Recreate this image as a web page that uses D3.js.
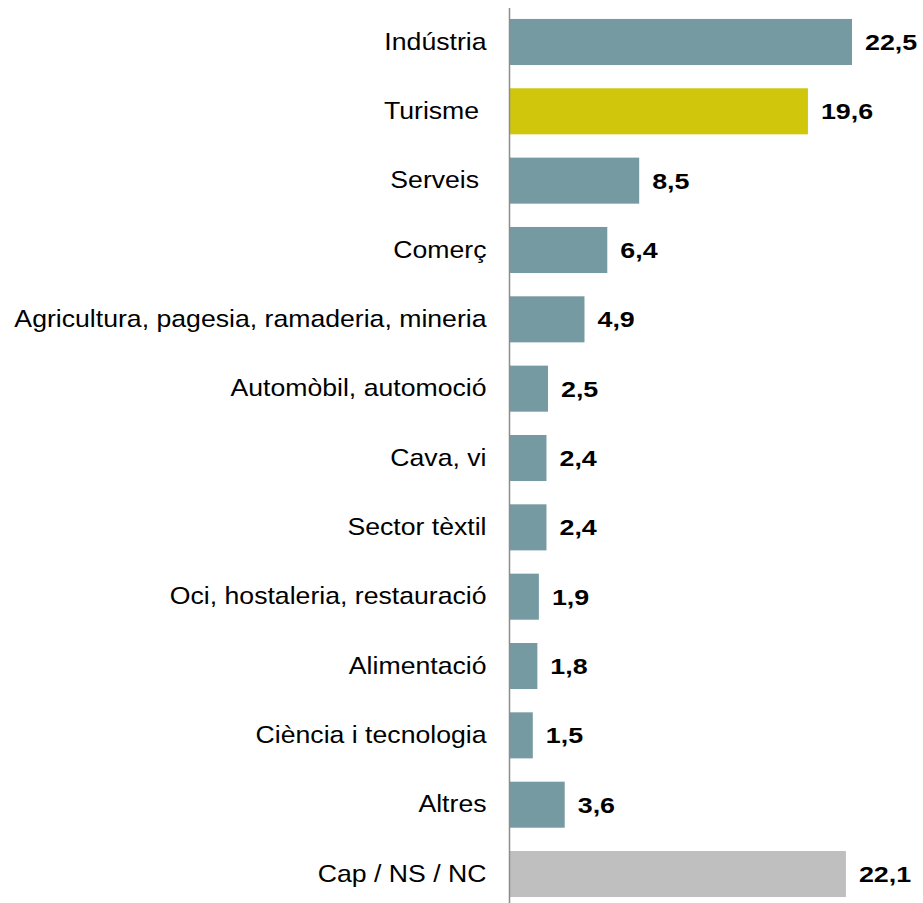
<!DOCTYPE html>
<html>
<head>
<meta charset="utf-8">
<script src="https://cdn.jsdelivr.net/npm/d3@7"></script>
<style>
  html, body { margin: 0; padding: 0; background: #ffffff; }
  svg { display: block; }
  text { font-family: "Liberation Sans", Arial, sans-serif; white-space: pre; }
</style>
</head>
<body>
<svg id="chart" width="923" height="903"></svg>
<script>
const categories = [
  "Indústria",
  "Turisme ",
  "Serveis ",
  "Comerç",
  "Agricultura, pagesia, ramaderia, mineria",
  "Automòbil, automoció",
  "Cava, vi",
  "Sector tèxtil",
  "Oci, hostaleria, restauració",
  "Alimentació",
  "Ciència i tecnologia",
  "Altres",
  "Cap / NS / NC"
];
const values = [22.5, 19.6, 8.5, 6.4, 4.9, 2.5, 2.4, 2.4, 1.9, 1.8, 1.5, 3.6, 22.1];
const groups = ["sector", "highlight", "sector", "sector", "sector", "sector", "sector", "sector", "sector", "sector", "sector", "sector", "none"];
const groupColors = { sector: "#769aa2", highlight: "#d0c60c", none: "#bfbfbf" };

const svg = d3.select("#chart");
const x0 = 510;
const x = d3.scaleLinear().domain([0, 22.5]).range([x0, 852]);
const y = d3.scaleBand().domain(categories).range([7.3, 908.7]).paddingInner(0.336).paddingOuter(0.168);

const data = categories.map((c, i) => ({ c, v: values[i], g: groups[i] }));

svg.selectAll("rect.bar").data(data).join("rect")
  .attr("class", "bar")
  .attr("x", x(0))
  .attr("y", d => y(d.c))
  .attr("width", d => x(d.v) - x(0))
  .attr("height", y.bandwidth())
  .attr("fill", d => groupColors[d.g]);

const labelStretch = 1.11;
const pad = 23;
const axis = d3.axisLeft(y).tickSize(0).tickPadding(pad);
const gAxis = svg.append("g").attr("transform", `translate(${x0 - 0.5},0)`).call(axis);
gAxis.select(".domain").remove();
gAxis.selectAll("text")
  .attr("font-size", 24)
  .attr("fill", "#000")
  .attr("x", -pad / labelStretch)
  .attr("transform", `scale(${labelStretch},1)`)
  .style("font-family", '"Liberation Sans", Arial, sans-serif');

svg.append("line")
  .attr("x1", x0 - 0.5).attr("x2", x0 - 0.5)
  .attr("y1", 8).attr("y2", 903)
  .attr("stroke", "#8c8c8c").attr("stroke-width", 1.5);

const valStretch = 1.22;
const fmt = v => v.toFixed(1).replace(".", ",");
svg.selectAll("text.val").data(data).join("text")
  .attr("class", "val")
  .attr("transform", d => `translate(${x(d.v) + 13},${y(d.c) + y.bandwidth() / 2}) scale(${valStretch},1)`)
  .attr("dy", "0.36em")
  .attr("font-size", 22)
  .attr("font-weight", "bold")
  .attr("fill", "#000")
  .text(d => fmt(d.v));
</script>
</body>
</html>
